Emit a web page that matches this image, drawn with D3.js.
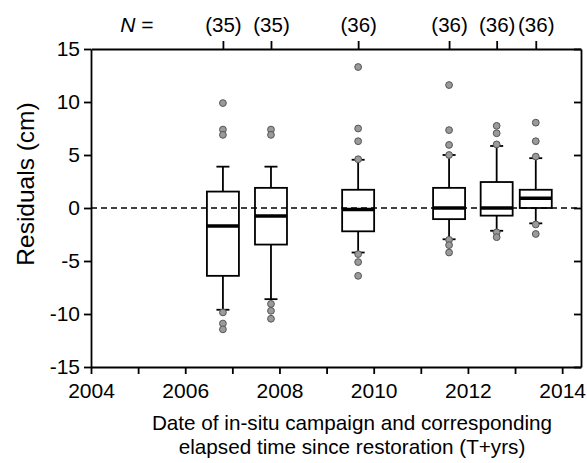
<!DOCTYPE html>
<html>
<head>
<meta charset="utf-8">
<script src="https://cdn.jsdelivr.net/npm/d3@7"></script>
<style>
  body { margin: 0; background: #fff; }
  text { font-family: "Liberation Sans", Arial, sans-serif; }
</style>
</head>
<body>
<div id="chart"></div>
<script>
// campaign dates (decimal years) and sample sizes
const dates = [2006.8, 2007.82, 2009.67, 2011.6, 2012.61, 2013.44];
const counts = [35, 35, 36, 36, 36, 36];

// box statistics (cm)
const whiskerLow = [-9.6, -8.6, -4.2, -2.95, -2.15, -1.45];
const q1 = [-6.4, -3.45, -2.2, -1.05, -0.72, 0.0];
const median = [-1.7, -0.75, -0.15, 0.0, 0.0, 0.92];
const q3 = [1.55, 1.9, 1.72, 1.9, 2.45, 1.72];
const whiskerHigh = [3.9, 3.9, 4.55, 5.0, 5.85, 4.7];

// outliers per campaign
const outliers = [
    [9.9, 7.4, 6.9, -9.85, -10.9, -11.45],
    [7.4, 6.9, -9.05, -9.7, -10.45],
    [13.3, 7.5, 6.3, 4.6, -4.35, -5.1, -6.4],
    [11.6, 7.35, 5.95, 5.0, -3.0, -3.5, -4.2],
    [7.75, 7.05, 6.0, -2.3, -2.75],
    [8.05, 6.3, 4.85, -1.55, -2.45]
];

const yTicks = [-15, -10, -5, 0, 5, 10, 15];
const xTicks = d3.range(2004, 2015);

const width = 587, height = 463;
const margin = {top: 49, right: 6, bottom: 96, left: 91};
const fontSize = 21;

const svg = d3.select('#chart')
    .append('svg')
    .attr('width', width)
    .attr('height', height);

const x = d3.scaleLinear()
    .domain([2004, 2014.4])
    .range([margin.left, width - margin.right]);

const y = d3.scaleLinear()
    .domain([-15, 15])
    .range([height - margin.bottom, margin.top]);

const boxW = 32, capW = 13;

// zero reference line
svg.append('line')
    .attr('x1', x.range()[0])
    .attr('x2', x.range()[1])
    .attr('y1', y(0))
    .attr('y2', y(0))
    .attr('stroke', '#000')
    .attr('stroke-width', 1.6)
    .attr('stroke-dasharray', '6,4');

// axes
function styleAxis(g) {
    g.selectAll('path, line').attr('stroke', '#000').attr('stroke-width', 1.8);
    g.selectAll('text').attr('font-size', fontSize).attr('fill', '#000')
        .attr('font-family', '"Liberation Sans", Arial, sans-serif');
}

svg.append('g')
    .attr('transform', `translate(0, ${ y.range()[0] })`)
    .call(d3.axisBottom(x)
        .tickValues(xTicks)
        .tickFormat(d => d % 2 === 0 ? String(d) : '')
        .tickSize(7)
        .tickSizeOuter(0)
        .tickPadding(9))
    .call(styleAxis);

svg.append('g')
    .attr('transform', `translate(${ x.range()[0] }, 0)`)
    .call(d3.axisLeft(y)
        .tickValues(yTicks)
        .tickFormat(d => String(d))
        .tickSize(7)
        .tickSizeOuter(0)
        .tickPadding(4))
    .call(styleAxis);

svg.append('g')
    .attr('transform', `translate(${ x.range()[1] }, 0)`)
    .call(d3.axisRight(y)
        .tickValues(yTicks)
        .tickFormat('')
        .tickSize(-7)
        .tickSizeOuter(0))
    .call(styleAxis);

svg.append('g')
    .attr('transform', `translate(0, ${ y.range()[1] })`)
    .call(d3.axisTop(x)
        .tickValues(dates)
        .tickFormat((d, i) => `(${ counts[i] })`)
        .tickSize(8)
        .tickSizeOuter(0)
        .tickPadding(9))
    .call(styleAxis)
    .call(g => g.selectAll('text').attr('font-size', 20.5));

// "N =" label
const nLabel = svg.append('text')
    .attr('x', 137)
    .attr('y', y.range()[1] - 17)
    .attr('text-anchor', 'middle')
    .attr('font-size', fontSize);
nLabel.append('tspan').attr('font-style', 'italic').text('N');
nLabel.append('tspan').text(' =');

// boxes
const boxes = svg.append('g')
    .selectAll('g')
    .data(dates.map((d, i) => ({
        date: d,
        lo: whiskerLow[i], q1: q1[i], med: median[i], q3: q3[i], hi: whiskerHigh[i],
        out: outliers[i]
    })))
    .enter()
    .append('g')
    .attr('transform', d => `translate(${ x(d.date) }, 0)`);

boxes.append('line')
    .attr('y1', d => y(d.q3)).attr('y2', d => y(d.hi))
    .attr('stroke', '#000').attr('stroke-width', 1.8);
boxes.append('line')
    .attr('y1', d => y(d.q1)).attr('y2', d => y(d.lo))
    .attr('stroke', '#000').attr('stroke-width', 1.8);
boxes.append('line')
    .attr('x1', -capW / 2).attr('x2', capW / 2)
    .attr('y1', d => y(d.hi)).attr('y2', d => y(d.hi))
    .attr('stroke', '#000').attr('stroke-width', 1.8);
boxes.append('line')
    .attr('x1', -capW / 2).attr('x2', capW / 2)
    .attr('y1', d => y(d.lo)).attr('y2', d => y(d.lo))
    .attr('stroke', '#000').attr('stroke-width', 1.8);

boxes.append('rect')
    .attr('x', -boxW / 2)
    .attr('width', boxW)
    .attr('y', d => y(d.q3))
    .attr('height', d => y(d.q1) - y(d.q3))
    .attr('fill', 'none')
    .attr('stroke', '#000')
    .attr('stroke-width', 1.8);

boxes.append('line')
    .attr('x1', -boxW / 2).attr('x2', boxW / 2)
    .attr('y1', d => y(d.med)).attr('y2', d => y(d.med))
    .attr('stroke', '#000').attr('stroke-width', 3.5);

boxes.selectAll('circle')
    .data(d => d.out)
    .enter()
    .append('circle')
    .attr('cy', d => y(d))
    .attr('r', 3.4)
    .attr('fill', '#9a9a9a')
    .attr('stroke', '#555')
    .attr('stroke-width', 1);

// axis titles
svg.append('text')
    .attr('transform', 'translate(34, 184) rotate(-90)')
    .attr('text-anchor', 'middle')
    .attr('font-size', 24.5)
    .text('Residuals (cm)');

svg.append('text')
    .attr('x', 352)
    .attr('y', 430)
    .attr('text-anchor', 'middle')
    .attr('font-size', 20.7)
    .text('Date of in-situ campaign and corresponding');

svg.append('text')
    .attr('x', 352)
    .attr('y', 454)
    .attr('text-anchor', 'middle')
    .attr('font-size', 20.7)
    .text('elapsed time since restoration (T+yrs)');
</script>
</body>
</html>
